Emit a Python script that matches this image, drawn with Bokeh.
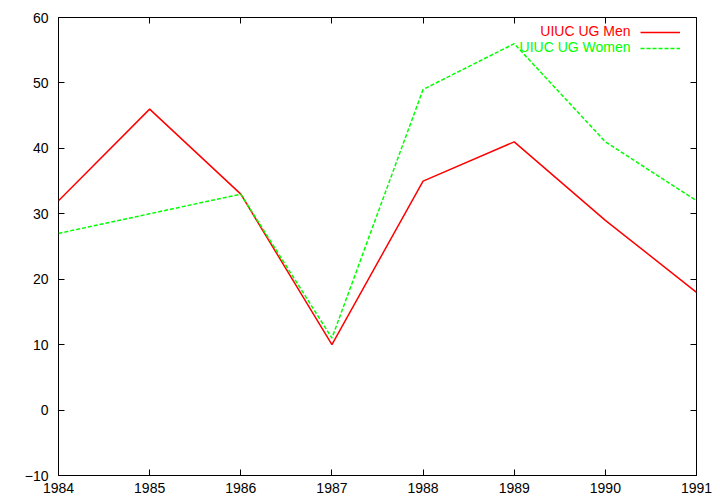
from bokeh.plotting import figure
from bokeh.models import (Range1d, FixedTicker, LinearAxis, Legend, LegendItem, Label)
from bokeh.embed import file_html
from bokeh.resources import INLINE

years = [1984, 1985, 1986, 1987, 1988, 1989, 1990, 1991]
men = [32, 46, 33, 10, 35, 41, 29, 18]
women = [27, 30, 33, 11, 49, 56, 41, 32]
y_ticks = [-10, 0, 10, 20, 30, 40, 50, 60]
series_names = ["UIUC UG Men", "UIUC UG Women"]

FONT = "Liberation Sans"
FS = "14px"

p = figure(width=720, height=504, output_backend="svg", toolbar_location=None,
           x_range=Range1d(1984, 1991), y_range=Range1d(-10, 60),
           min_border_left=58, min_border_right=24, min_border_top=17, min_border_bottom=29,
           x_axis_location=None, y_axis_location=None)
p.xgrid.visible = False
p.ygrid.visible = False
p.outline_line_color = "black"
p.outline_line_width = 1
p.background_fill_color = "white"
p.border_fill_color = "white"

def make_axis(ticks, labels=True):
    ax = LinearAxis(ticker=FixedTicker(ticks=ticks))
    ax.axis_line_color = None
    ax.major_tick_in = 6
    ax.major_tick_out = 0
    ax.minor_tick_line_color = None
    ax.major_tick_line_color = "black"
    ax.major_label_text_font = FONT
    ax.major_label_text_font_size = FS
    ax.major_label_text_color = "black"
    if not labels:
        ax.major_label_overrides = {t: "" for t in ticks}
        ax.major_label_standoff = 0
    return ax

bx = make_axis(years)
bx.major_label_standoff = 7
p.add_layout(bx, "below")
ly = make_axis(y_ticks)
ly.major_label_standoff = 10
p.add_layout(ly, "left")
p.add_layout(make_axis(years, labels=False), "above")
p.add_layout(make_axis(y_ticks, labels=False), "right")

r_men = p.line(years, men, line_color="#ff0000", line_width=1.5)
r_women = p.line(years, women, line_color="#00ff00", line_width=1.5, line_dash="4 2")

legend = Legend(items=[LegendItem(label=" ", renderers=[r_men]),
                       LegendItem(label=" ", renderers=[r_women])],
                location="top_right", margin=7, padding=0, spacing=0,
                glyph_width=40, glyph_height=16, label_height=16, label_width=9,
                label_standoff=0, border_line_color=None, background_fill_alpha=0,
                label_text_font_size="8px")
p.add_layout(legend)

for name, color, yy in zip(series_names, ["#ff0000", "#00ff00"], [445, 429]):
    p.add_layout(Label(x=572, y=yy, x_units="screen", y_units="screen", text=name,
                       text_color=color, text_font=FONT, text_font_size=FS,
                       text_align="right", text_baseline="middle"))

open("out.html", "w").write(file_html(p, INLINE))
